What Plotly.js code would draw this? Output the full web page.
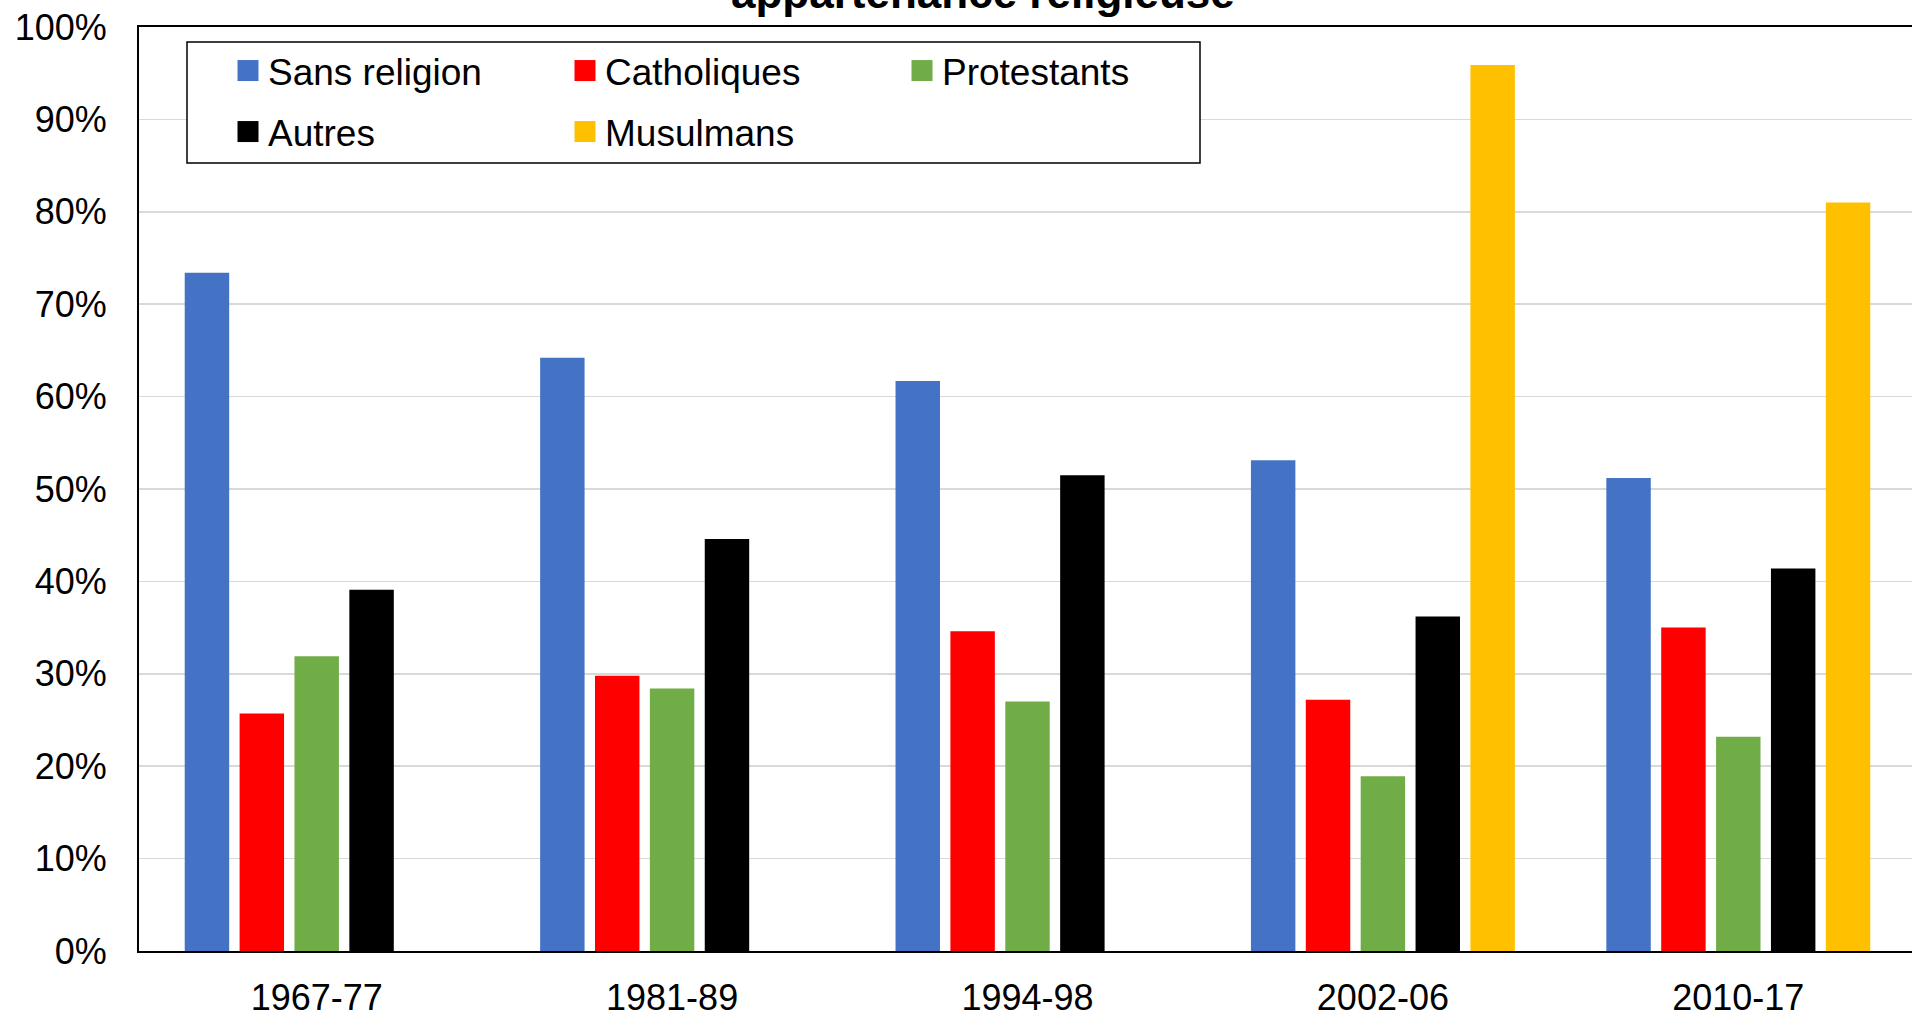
<!DOCTYPE html>
<html>
<head>
<meta charset="utf-8">
<script src="https://cdn.plot.ly/plotly-3.0.1.min.js"></script>
<style>
  html, body { margin: 0; padding: 0; background: #fff; overflow: hidden; }
  #chart { width: 1920px; height: 1015px; }
</style>
</head>
<body>
<div id="chart"></div>
<script>
// ---- data (percent) ----
const periods = ["1967-77", "1981-89", "1994-98", "2002-06", "2010-17"];
const sansReligion = [73.4, 64.2, 61.7, 53.1, 51.2];
const catholiques  = [25.7, 29.8, 34.6, 27.2, 35.0];
const protestants  = [31.9, 28.4, 27.0, 18.9, 23.2];
const autres       = [39.1, 44.6, 51.5, 36.2, 41.4];
const musulmans    = [null, null, null, 95.9, 81.0];
const seriesNames  = ["Sans religion", "Catholiques", "Protestants", "Autres", "Musulmans"];
const titleLine    = "appartenance religieuse";
const yTickVals    = [0, 10, 20, 30, 40, 50, 60, 70, 80, 90, 100];
const yTickText    = ["0%", "10%", "20%", "30%", "40%", "50%", "60%", "70%", "80%", "90%", "100%"];

const FONT = "'Liberation Sans', Arial, Helvetica, sans-serif";
const colors = ["#4472C4", "#FF0000", "#70AD47", "#000000", "#FFC000"];
const values = [sansReligion, catholiques, protestants, autres, musulmans];
const legendIds = ["legend", "legend", "legend", "legend2", "legend2"];

const traces = values.map((v, i) => ({
  type: "bar",
  name: seriesNames[i],
  x: periods,
  y: v,
  marker: { color: colors[i], line: { width: 0 } },
  legend: legendIds[i],
  hoverinfo: "skip"
}));

const plotLeft = 139, plotW = 1777, plotTop = 27, plotH = 924;
const px2x = p => (p - plotLeft) / plotW;
const px2y = p => 1 - (p - plotTop) / plotH;

const legendCommon = {
  orientation: "h",
  entrywidth: 292,
  entrywidthmode: "pixels",
  bgcolor: "rgba(0,0,0,0)",
  borderwidth: 0,
  xanchor: "left",
  yanchor: "middle",
  x: px2x(228),
  font: { family: FONT, size: 37, color: "#000" },
  itemclick: false,
  itemdoubleclick: false
};

const layout = {
  width: 1920,
  height: 1015,
  margin: { l: plotLeft, r: 1920 - plotLeft - plotW, t: plotTop, b: 1015 - plotTop - plotH, pad: 0 },
  paper_bgcolor: "#fff",
  plot_bgcolor: "#fff",
  barmode: "group",
  bargap: 0.228,
  bargroupgap: 0.19,
  font: { family: FONT, color: "#000" },
  showlegend: true,
  hovermode: false,
  xaxis: {
    type: "category",
    showline: true, mirror: true, linecolor: "#000", linewidth: 2,
    showgrid: false, ticks: "", zeroline: false,
    tickfont: { family: FONT, size: 36, color: "#000" },
    ticklabelstandoff: 14
  },
  yaxis: {
    range: [0, 100],
    tickmode: "array",
    tickvals: yTickVals,
    ticktext: yTickText,
    showline: true, mirror: true, linecolor: "#000", linewidth: 2,
    showgrid: true, gridcolor: "#d9d9d9", gridwidth: 1.5,
    zeroline: false, ticks: "",
    tickfont: { family: FONT, size: 36, color: "#000" },
    ticklabelstandoff: 23
  },
  legend: Object.assign({}, legendCommon, { y: px2y(71) }),
  legend2: Object.assign({}, legendCommon, { y: px2y(132) }),
  shapes: [{
    type: "rect", xref: "paper", yref: "paper",
    x0: px2x(187), x1: px2x(1200), y0: px2y(163), y1: px2y(42),
    line: { color: "#000", width: 1.5 },
    fillcolor: "#fff",
    layer: "above"
  }],
  annotations: [{
    text: "<b>" + titleLine + "</b>",
    xref: "paper", yref: "paper",
    x: px2x(983), y: px2y(-8),
    xanchor: "center", yanchor: "middle",
    showarrow: false,
    font: { family: FONT, size: 44, color: "#000" }
  }]
};

Plotly.newPlot("chart", traces, layout, { displayModeBar: false, staticPlot: true }).then(gd => {
  // enlarge the legend squares to match the reference's larger swatches
  gd.querySelectorAll(".legendpoints path").forEach(p => {
    p.setAttribute("d", "M10.5,10.5H-10.5V-10.5H10.5Z");
  });
});
</script>
</body>
</html>
